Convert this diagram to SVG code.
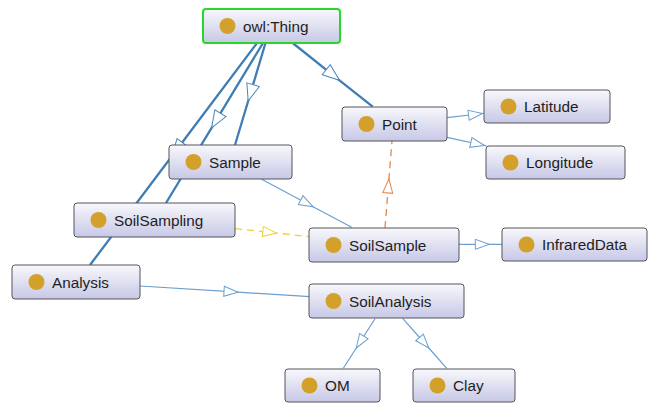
<svg xmlns="http://www.w3.org/2000/svg" width="649" height="403" viewBox="0 0 649 403">
  <style>
    .node rect { fill: url(#nodeFill); stroke: #55555a; stroke-width: 1; }
    .node.root rect { stroke: #2bd62b; stroke-width: 2; }
    .node circle { fill: #d3a02b; }
    .node text { font-family: "Liberation Sans", Arial, sans-serif; font-size: 15.3px; fill: #1e1e1e; }
    .edge { fill: none; }
    .sub { stroke: #6b9fcf; stroke-width: 1.2; marker-mid: url(#tri-blue); }
    .sub.strong { stroke: #3f7db4; stroke-width: 2.3; marker-mid: url(#tri-strong); }
    .dash-y { stroke: #f4cf35; stroke-width: 1.3; stroke-dasharray: 7 5; marker-mid: url(#tri-yellow); }
    .dash-o { stroke: #e4874a; stroke-width: 1.3; stroke-dasharray: 7 5; marker-mid: url(#tri-orange); }
  </style>
  <defs>
    <linearGradient id="nodeFill" x1="0" y1="0" x2="0" y2="1">
      <stop offset="0" stop-color="#f8f8fc"/>
      <stop offset="1" stop-color="#c7c8e6"/>
    </linearGradient>
    <marker id="tri-blue" viewBox="-15 -6 16 12" refX="0" refY="0" markerWidth="16" markerHeight="12" markerUnits="userSpaceOnUse" orient="auto">
      <path d="M0,0 L-14,-5 L-14,5 Z" fill="#ffffff" stroke="#6b9fcf" stroke-width="1"/>
    </marker>
    <marker id="tri-strong" viewBox="-19 -8 20 16" refX="0" refY="0" markerWidth="20" markerHeight="16" markerUnits="userSpaceOnUse" orient="auto">
      <path d="M0,0 L-17,-6.5 L-17,6.5 Z" fill="#ffffff" stroke="#4a86bb" stroke-width="1"/>
    </marker>
    <marker id="tri-yellow" viewBox="-15 -6 16 12" refX="0" refY="0" markerWidth="16" markerHeight="12" markerUnits="userSpaceOnUse" orient="auto">
      <path d="M0,0 L-14,-5 L-14,5 Z" fill="#ffffff" stroke="#f4cf35" stroke-width="1"/>
    </marker>
    <marker id="tri-orange" viewBox="-15 -6 16 12" refX="0" refY="0" markerWidth="16" markerHeight="12" markerUnits="userSpaceOnUse" orient="auto">
      <path d="M0,0 L-14,-5 L-14,5 Z" fill="#ffffff" stroke="#e4874a" stroke-width="1"/>
    </marker>
  </defs>

  <rect width="649" height="403" fill="#ffffff"/>

  <!-- connectors: each path runs source, arrow tip, target -->
  <g id="connectors" class="edge">
    <path id="e-thing-point" class="sub strong" d="M292.7,43 L339.5,80.3 L372.7,106.7"/>
    <path id="e-thing-sample" class="sub strong" d="M265.5,43 L248.2,101 L235,145"/>
    <path id="e-thing-soilsampling" class="sub strong" d="M263,43 L211.6,127.8 L166,203"/>
    <path id="e-thing-analysis" class="sub strong" d="M257,43 L172,156 L90,265"/>
    <path id="e-sample-soilsample" class="sub" d="M261.7,179.3 L313,206.7 L351.7,227.3"/>
    <path id="e-soilsampling-soilsample" class="dash-y" d="M235,228.7 L276.7,233.1 L310,236.7"/>
    <path id="e-soilsample-point" class="dash-o" d="M385,228 L388.9,179 L392,141"/>
    <path id="e-point-latitude" class="sub" d="M447,117.7 L482.5,113.5 L484,113.3"/>
    <path id="e-point-longitude" class="sub" d="M447,137.3 L484.5,145.5 L486.7,146"/>
    <path id="e-soilsample-infrared" class="sub" d="M458.7,244.3 L489.3,244.3 L502.3,244.3"/>
    <path id="e-analysis-soilanalysis" class="sub" d="M140,286 L238,292.2 L310,296.7"/>
    <path id="e-soilanalysis-om" class="sub" d="M375,318.7 L356.3,348 L343.3,368.3"/>
    <path id="e-soilanalysis-clay" class="sub" d="M402.7,318.3 L428.8,348 L446.7,368.3"/>
  </g>

  <!-- class nodes -->
  <g id="owl-thing" class="node root">
    <rect x="203" y="9" width="137" height="34" rx="3"/>
    <circle cx="227.5" cy="26" r="8"/>
    <text x="243" y="31.5">owl:Thing</text>
  </g>
  <g id="point" class="node">
    <rect x="342" y="107" width="105" height="34" rx="3"/>
    <circle cx="366.5" cy="124" r="8"/>
    <text x="382" y="129.5">Point</text>
  </g>
  <g id="latitude" class="node">
    <rect x="484" y="90" width="126" height="33" rx="3"/>
    <circle cx="508.5" cy="106.5" r="8"/>
    <text x="524" y="112">Latitude</text>
  </g>
  <g id="longitude" class="node">
    <rect x="486" y="146" width="139" height="33" rx="3"/>
    <circle cx="510.5" cy="162.5" r="8"/>
    <text x="526" y="168">Longitude</text>
  </g>
  <g id="sample" class="node">
    <rect x="169" y="145" width="123" height="34" rx="3"/>
    <circle cx="193.5" cy="162" r="8"/>
    <text x="209" y="167.5">Sample</text>
  </g>
  <g id="soil-sampling" class="node">
    <rect x="74" y="203" width="161" height="34" rx="3"/>
    <circle cx="98.5" cy="220" r="8"/>
    <text x="114" y="225.5">SoilSampling</text>
  </g>
  <g id="analysis" class="node">
    <rect x="12" y="265" width="128" height="34" rx="3"/>
    <circle cx="36.5" cy="282" r="8"/>
    <text x="52" y="287.5">Analysis</text>
  </g>
  <g id="soil-sample" class="node">
    <rect x="309" y="228" width="150" height="34" rx="3"/>
    <circle cx="333.5" cy="245" r="8"/>
    <text x="349" y="250.5">SoilSample</text>
  </g>
  <g id="infrared-data" class="node">
    <rect x="502" y="228" width="145" height="33" rx="3"/>
    <circle cx="526.5" cy="244.5" r="8"/>
    <text x="542" y="250">InfraredData</text>
  </g>
  <g id="soil-analysis" class="node">
    <rect x="309" y="284" width="155" height="34" rx="3"/>
    <circle cx="333.5" cy="301" r="8"/>
    <text x="349" y="306.5">SoilAnalysis</text>
  </g>
  <g id="om" class="node">
    <rect x="285" y="369" width="95" height="33" rx="3"/>
    <circle cx="309.5" cy="385.5" r="8"/>
    <text x="325" y="391">OM</text>
  </g>
  <g id="clay" class="node">
    <rect x="413" y="369" width="102" height="33" rx="3"/>
    <circle cx="437.5" cy="385.5" r="8"/>
    <text x="453" y="391">Clay</text>
  </g>
</svg>
